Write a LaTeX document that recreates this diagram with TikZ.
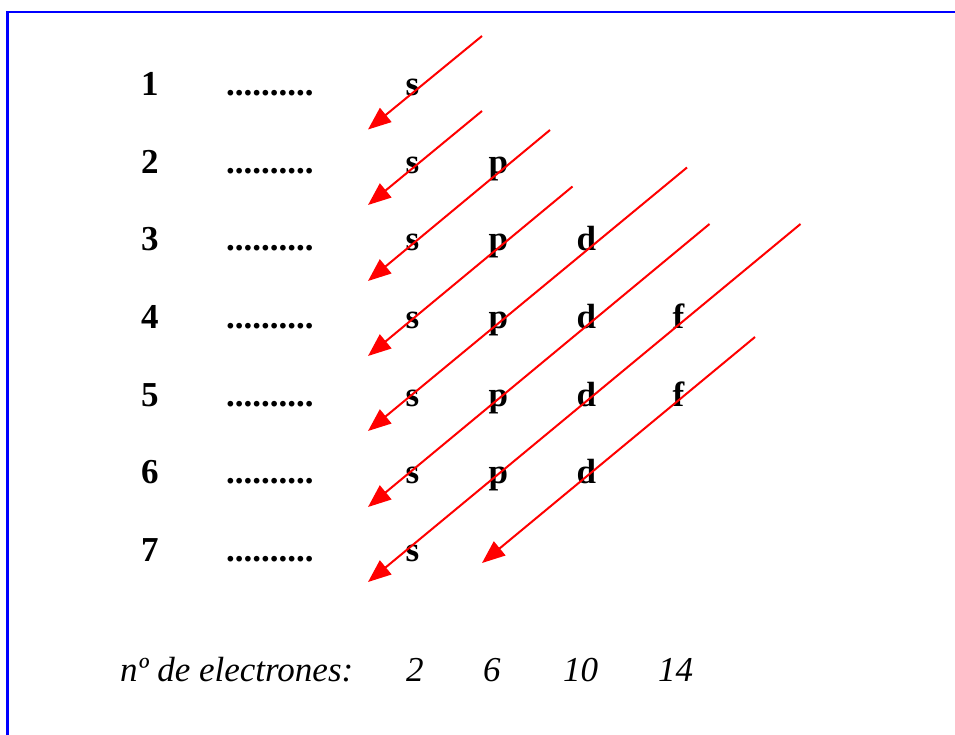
\documentclass[tikz,border=0pt]{standalone}
\usepackage{fontspec}
\setmainfont{Liberation Serif}
\usetikzlibrary{arrows.meta}
\begin{document}
\begin{tikzpicture}[x=1pt,y=-1pt,
  lbl/.style={anchor=base west,inner sep=0pt,font=\fontsize{35pt}{40pt}\selectfont\bfseries},
  num/.style={anchor=base west,inner sep=0pt,font=\fontsize{35pt}{40pt}\selectfont\itshape},
  fillarrow/.style={draw=red,line width=2pt,-{Triangle[length=23pt,width=18pt]}}]
\useasboundingbox (0,0) rectangle (955,735);
% frame
\draw[blue,line width=2.2pt] (7.5,740) -- (7.5,12) -- (960,12);
% shell rows
\foreach \n/\y in {1/96,2/173.5,3/251,4/328.5,5/406,6/483.5,7/561}{
  \node[lbl] (n\n) at (141,\y) {\n};
  \node[lbl] (dots\n) at (226,\y) {..........};
}
\foreach \n/\y in {1/96,2/173.5,3/251,4/328.5,5/406,6/483.5,7/561}
  \node[lbl] (s\n) at (405.5,\y) {s};
\foreach \n/\y in {2/173.5,3/251,4/328.5,5/406,6/483.5}
  \node[lbl] (p\n) at (488.5,\y) {p};
\foreach \n/\y in {3/251,4/328.5,5/406,6/483.5}
  \node[lbl] (d\n) at (576.5,\y) {d};
\foreach \n/\y in {4/328.5,5/406}
  \node[lbl] (f\n) at (672.5,\y) {f};
% filling-order diagonals
\coordinate (a1s) at (482,36);    \coordinate (a1e) at (368,129.5);
\coordinate (a2s) at (482,111);   \coordinate (a2e) at (368,205);
\coordinate (a3s) at (550,130);   \coordinate (a3e) at (368,281);
\coordinate (a4s) at (572.5,186.5); \coordinate (a4e) at (368,356);
\coordinate (a5s) at (687,167.5); \coordinate (a5e) at (368,431);
\coordinate (a6s) at (709.5,224); \coordinate (a6e) at (368,507);
\coordinate (a7s) at (800.5,224); \coordinate (a7e) at (368,582);
\coordinate (a8s) at (755,337);   \coordinate (a8e) at (482,563);
\foreach \k in {1,...,8}
  \draw[fillarrow] (a\k s) -- (a\k e);
% electron capacities
\node[num] (cap) at (120,681) {nº de electrones:};
\node[num] (c2) at (406,681) {2};
\node[num] (c6) at (483,681) {6};
\node[num] (c10) at (563,681) {10};
\node[num] (c14) at (658,681) {14};
\end{tikzpicture}
\end{document}
